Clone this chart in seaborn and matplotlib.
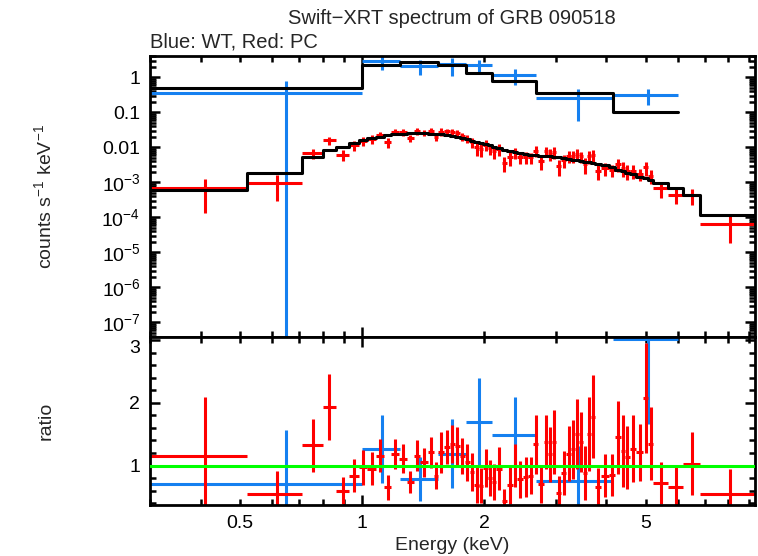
import numpy as np
import pandas as pd
import matplotlib
matplotlib.use("Agg")
import matplotlib.pyplot as plt
from matplotlib.ticker import FixedLocator, FuncFormatter
import seaborn as sns

# WT mode (blue) - bin edges in keV, count rate, model, ratio
wt_edges = [0.30, 1.00, 1.24, 1.54, 1.80, 2.09, 2.68, 4.15, 6.00]
wt_rate = [0.35, 2.92, 2.14, 2.40, 2.25, 1.16, 0.256, 0.31]
wt_rate_err = [0.43, 1.30, 1.00, 1.30, 0.95, 0.55, 0.20, 0.15]
wt_model = [0.485, 2.24, 2.68, 2.24, 1.30, 0.78, 0.35, 0.10]
wt_ratio = [0.71, 1.26, 0.79, 1.19, 1.69, 1.48, 0.76, 3.02]
wt_ratio_err = [0.86, 0.54, 0.35, 0.55, 0.71, 0.61, 0.55, 1.36]

# PC mode (red)
pc_edges = [0.30, 0.52, 0.71, 0.80, 0.86, 0.93, 0.98, 1.03, 1.08, 1.13, 1.18, 1.23,
            1.29, 1.34, 1.39, 1.45, 1.50, 1.54, 1.59, 1.645, 1.69, 1.74, 1.79, 1.84,
            1.89, 1.94, 1.99, 2.045, 2.09, 2.14, 2.21, 2.27, 2.35, 2.415, 2.49, 2.57,
            2.645, 2.72, 2.80, 2.87, 2.94, 3.01, 3.10, 3.19, 3.27, 3.35, 3.42, 3.51,
            3.59, 3.665, 3.76, 3.89, 4.05, 4.20, 4.335, 4.445, 4.57, 4.745, 4.92, 5.08,
            5.22, 5.68, 6.19, 6.80, 9.30]
pc_model = [6.0e-4, 1.8e-3, 5.2e-3, 8.3e-3, 0.0104, 0.0135, 0.0162, 0.0185, 0.020, 0.022,
            0.0235, 0.0245, 0.025, 0.025, 0.025, 0.0245, 0.024, 0.0235, 0.022, 0.021,
            0.020, 0.018, 0.017, 0.0155, 0.0145, 0.0135, 0.0125, 0.0117, 0.0105, 0.0095,
            0.0085, 0.0077, 0.0072, 0.0068, 0.0065, 0.0062, 0.0060, 0.0058, 0.0056, 0.0055,
            0.0053, 0.0052, 0.0050, 0.0047, 0.0045, 0.0043, 0.0041, 0.0039, 0.0037, 0.0035,
            0.0033, 0.0031, 0.0027, 0.0023, 0.0021, 0.0019, 0.0017, 0.00145, 0.0013, 0.00115,
            9.3e-4, 6.7e-4, 4.3e-4, 1.2e-4]
pc_ratio = [1.16, 0.54, 1.32, 1.93, 0.60, 0.84, 0.97, 0.95, 1.16, 0.65,
            1.19, 1.11, 0.74, 1.16, 1.05, 1.21, 0.84, 1.21, 1.30, 1.34,
            1.31, 1.15, 1.05, 0.90, 0.69, 0.68, 0.96, 0.80, 0.74, 0.95,
            0.43, 0.69, 1.00, 0.78, 0.82, 0.84, 1.34, 0.70, 1.37, 1.18,
            1.37, 0.56, 0.88, 1.19, 1.26, 1.50, 1.37, 0.88, 1.50, 1.78,
            0.66, 0.84, 0.85, 1.45, 1.23, 1.13, 1.27, 1.21, 2.08, 1.35,
            0.72, 0.66, 1.03, 0.55]
pc_ratio_err = [0.94, 0.38, 0.42, 0.53, 0.21, 0.27, 0.28, 0.26, 0.26, 0.20,
                0.24, 0.23, 0.18, 0.24, 0.23, 0.25, 0.21, 0.33, 0.27, 0.30,
                0.30, 0.29, 0.29, 0.30, 0.29, 0.28, 0.31, 0.29, 0.29, 0.34,
                0.19, 0.30, 0.35, 0.30, 0.32, 0.30, 0.47, 0.30, 0.43, 0.44,
                0.51, 0.27, 0.35, 0.44, 0.47, 0.56, 0.48, 0.43, 0.59, 0.66,
                0.30, 0.34, 0.33, 0.58, 0.57, 0.50, 0.53, 0.46, 0.88, 0.58,
                0.34, 0.31, 0.50, 0.40]

BLUE = "#1580f0"
RED = "#ff0000"
GREEN = "#00ff00"
LW = 2.2

sns.set_style("ticks")
plt.rcParams['font.family'] = ['Liberation Sans', 'DejaVu Sans']
plt.rcParams['mathtext.fontset'] = 'custom'
plt.rcParams['mathtext.rm'] = 'Liberation Sans'
plt.rcParams['mathtext.it'] = 'Liberation Sans:italic'
plt.rcParams['font.size'] = 14


def bins(edges):
    e = np.array(edges)
    return (e[:-1] + e[1:]) / 2, (e[1:] - e[:-1]) / 2


def lower_err(rate, err):
    # error bars that reach zero run off the bottom of the log axis
    rate = np.asarray(rate)
    err = np.asarray(err)
    return np.where(rate - err > 0, err, rate - 1e-12)


def steps(ax, edges, vals, color):
    df = pd.DataFrame({"E": edges, "v": list(vals) + [vals[-1]]})
    sns.lineplot(data=df, x="E", y="v", ax=ax, color=color, lw=LW,
                 drawstyle="steps-post", estimator=None, zorder=5)


wt_x, wt_xerr = bins(wt_edges)
pc_x, pc_xerr = bins(pc_edges)
pc_rate = np.array(pc_model) * np.array(pc_ratio)
pc_rate_err = np.array(pc_model) * np.array(pc_ratio_err)

fig = plt.figure(figsize=(7.58, 5.56), dpi=100)
ax1 = fig.add_axes([0.198, 0.394, 0.798, 0.505])
ax2 = fig.add_axes([0.198, 0.0917, 0.798, 0.302])

# top panel: spectrum
ax1.errorbar(wt_x, wt_rate, xerr=wt_xerr,
             yerr=[lower_err(wt_rate, wt_rate_err), wt_rate_err], fmt='none',
             ecolor=BLUE, elinewidth=LW, capsize=0)
ax1.errorbar(pc_x, pc_rate, xerr=pc_xerr,
             yerr=[lower_err(pc_rate, pc_rate_err), pc_rate_err], fmt='none',
             ecolor=RED, elinewidth=LW, capsize=0)
ax1.set_xscale('log')
ax1.set_yscale('log')
steps(ax1, wt_edges, wt_model, 'black')
steps(ax1, pc_edges, pc_model, 'black')

# bottom panel: ratio
ax2.errorbar(wt_x, wt_ratio, xerr=wt_xerr, yerr=wt_ratio_err, fmt='none',
             ecolor=BLUE, elinewidth=LW, capsize=0)
ax2.errorbar(pc_x, pc_ratio, xerr=pc_xerr, yerr=pc_ratio_err, fmt='none',
             ecolor=RED, elinewidth=LW, capsize=0)
ax2.axhline(1.0, color=GREEN, lw=LW, zorder=6)
ax2.set_xscale('log')

for ax in (ax1, ax2):
    ax.set_xlim(0.3, 9.3)
    ax.xaxis.set_major_locator(FixedLocator([1, 10]))
    ax.xaxis.set_minor_locator(FixedLocator([0.3, 0.4, 0.5, 0.6, 0.7, 0.8, 0.9,
                                             2, 3, 4, 5, 6, 7, 8, 9]))
    ax.tick_params(which='both', direction='in', top=True, right=True,
                   width=1.8, colors='black', labelsize=14)
    ax.tick_params(which='major', length=7, pad=7)
    ax.tick_params(which='minor', length=4, pad=7)
    for s in ax.spines.values():
        s.set_linewidth(2.0)
        s.set_color('black')
    ax.set_xlabel('')
    ax.set_ylabel('')

ax1.set_ylim(3.8e-8, 4.06)
ax1.yaxis.set_major_locator(FixedLocator([10.0 ** k for k in range(-8, 2)]))
ax1.yaxis.set_minor_locator(FixedLocator([m * 10.0 ** k for k in range(-9, 1)
                                          for m in range(2, 10)]))


def yfmt(v, pos):
    if v >= 0.01:
        return f"{v:g}"
    return r"$10^{%d}$" % int(round(np.log10(v)))


ax1.yaxis.set_major_formatter(FuncFormatter(yfmt))
ax1.yaxis.set_minor_formatter(FuncFormatter(lambda v, p: ""))
ax1.tick_params(which='both', labelbottom=False)

ax2.set_ylim(0.37, 3.05)
ax2.yaxis.set_major_locator(FixedLocator([1, 2, 3]))
ax2.yaxis.set_minor_locator(FixedLocator([0.4, 0.6, 0.8, 1.2, 1.4, 1.6, 1.8,
                                          2.2, 2.4, 2.6, 2.8]))
ax2.yaxis.set_major_formatter(FuncFormatter(lambda v, p: f"{v:g}"))
ax2.xaxis.set_major_formatter(FuncFormatter(lambda v, p: f"{v:g}"))
ax2.xaxis.set_minor_formatter(FuncFormatter(lambda v, p: f"{v:g}" if v in (0.5, 2, 5) else ""))
# keep the "3" of the ratio axis clear of the 10^-7 label above it
for lbl in ax2.get_yticklabels():
    if lbl.get_text() == "3":
        lbl.set_va('top')

ax1.set_ylabel(r"counts s$^{-1}$ keV$^{-1}$", fontsize=14)
ax2.set_ylabel("ratio", fontsize=14)
ax1.yaxis.set_label_coords(-0.157, 0.5)
ax2.yaxis.set_label_coords(-0.157, 0.5)
ax2.set_xlabel("Energy (keV)", fontsize=14)
ax2.xaxis.set_label_coords(0.5, -0.19)

fig.text(0.596, 1 - 18 / 556, "Swift\u2212XRT spectrum of GRB 090518", ha='center',
         va='center', fontsize=14.5)
fig.text(0.198, 1 - 42 / 556, "Blue: WT, Red: PC", ha='left', va='center', fontsize=14.5)

fig.savefig("out.png", dpi=100)
